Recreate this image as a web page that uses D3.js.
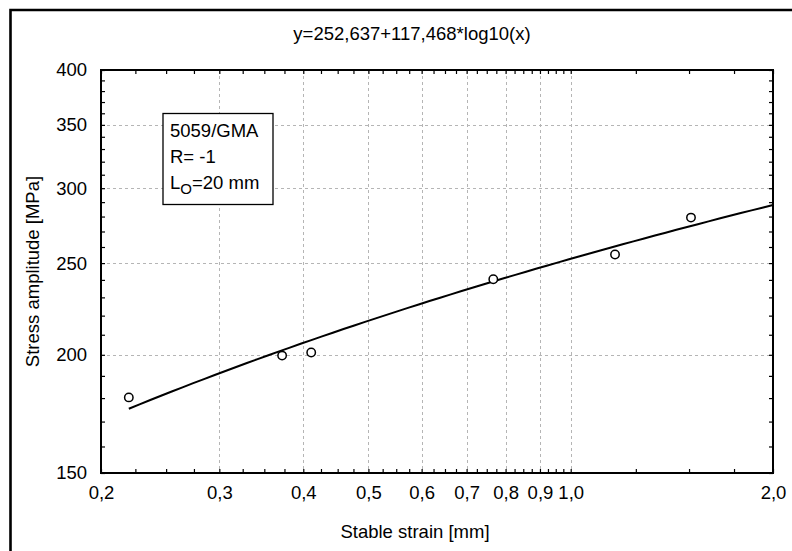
<!DOCTYPE html>
<html>
<head>
<meta charset="utf-8">
<script src="https://cdn.jsdelivr.net/npm/d3@7"></script>
<style>
  body { margin: 0; background: #fff; }
  text { font-family: "Liberation Sans", Arial, sans-serif; fill: #000; }
</style>
</head>
<body>
<div id="chart"></div>
<script>
// measured points (stable strain, stress amplitude)
const strain = [0.22, 0.372, 0.411, 0.767, 1.164, 1.51];
const stress = [180.3, 199.6, 201.1, 240.4, 255.3, 279.3];

// fit from the title: y = A + B*log10(x)
const FIT_A = 252.637;
const FIT_B = 117.468;

const xMajor = [0.2, 0.3, 0.4, 0.5, 0.6, 0.7, 0.8, 0.9, 1.0, 2.0];
const xMajorLabels = ['0,2', '0,3', '0,4', '0,5', '0,6', '0,7', '0,8', '0,9', '1,0', '2,0'];
const xMinor = [0.225, 0.25, 0.275, 0.325, 0.35, 0.375, 0.425, 0.45, 0.475,
  0.525, 0.55, 0.575, 0.625, 0.65, 0.675, 0.725, 0.75, 0.775, 0.825, 0.85, 0.875,
  0.925, 0.95, 0.975, 1.25, 1.5, 1.75];
const yMajor = [150, 200, 250, 300, 350, 400];
const yMinor = [160, 170, 180, 190, 210, 220, 230, 240, 260, 270, 280, 290,
  310, 320, 330, 340, 360, 370, 380, 390];
const xGrid = [0.3, 0.4, 0.5, 0.6, 0.7, 0.8, 0.9, 1.0];
const yGrid = [200, 250, 300, 350];

const legendLines = ['5059/GMA', 'R= -1'];

const W = 792, H = 551;
const PLOT = { LEFT: 101, RIGHT: 773, TOP: 70, BOTTOM: 473 };
const FONT = '18.5px';

const svg = d3.select('#chart').append('svg')
  .attr('width', W)
  .attr('height', H);

svg.append('rect').attr('width', W).attr('height', H).attr('fill', '#fff');

// outer frame (only top and left edges are visible)
svg.append('path')
  .attr('d', `M10.5,${H} L10.5,10 L${W},10`)
  .attr('fill', 'none')
  .attr('stroke', '#000')
  .attr('stroke-width', 2.6);

const x = d3.scaleLog().domain([0.2, 2.0]).range([PLOT.LEFT, PLOT.RIGHT]);
const y = d3.scaleLog().domain([150, 400]).range([PLOT.BOTTOM, PLOT.TOP]);

// grid
const grid = svg.append('g')
  .attr('stroke', '#b5b5b5')
  .attr('stroke-width', 1)
  .attr('stroke-dasharray', '3,3');
grid.selectAll('.gx').data(xGrid).enter().append('line')
  .attr('x1', d => Math.round(x(d)) + 0.5).attr('x2', d => Math.round(x(d)) + 0.5)
  .attr('y1', PLOT.TOP).attr('y2', PLOT.BOTTOM);
grid.selectAll('.gy').data(yGrid).enter().append('line')
  .attr('y1', d => Math.round(y(d)) + 0.5).attr('y2', d => Math.round(y(d)) + 0.5)
  .attr('x1', PLOT.LEFT).attr('x2', PLOT.RIGHT);

// axes (ticks inward on all four sides)
function styleAxis(g) {
  g.select('.domain').remove();
  g.selectAll('.tick line').attr('stroke', '#000').attr('stroke-width', 1.2);
  g.selectAll('.tick text')
    .style('font-family', '"Liberation Sans", Arial, sans-serif')
    .style('font-size', FONT)
    .attr('fill', '#000');
}

svg.append('g')
  .attr('transform', `translate(0,${PLOT.BOTTOM})`)
  .call(d3.axisBottom(x).tickValues(xMajor.concat(xMinor))
    .tickFormat(d => { const i = xMajor.indexOf(d); return i >= 0 ? xMajorLabels[i] : ''; })
    .tickSize(-4).tickSizeOuter(0).tickPadding(13))
  .call(styleAxis);

svg.append('g')
  .attr('transform', `translate(0,${PLOT.TOP})`)
  .call(d3.axisTop(x).tickValues(xMajor.concat(xMinor)).tickFormat('')
    .tickSize(-4).tickSizeOuter(0))
  .call(styleAxis);

svg.append('g')
  .attr('transform', `translate(${PLOT.LEFT},0)`)
  .call(d3.axisLeft(y).tickValues(yMajor.concat(yMinor))
    .tickFormat(d => yMajor.includes(d) ? String(d) : '')
    .tickSize(-4).tickSizeOuter(0).tickPadding(14))
  .call(styleAxis);

svg.append('g')
  .attr('transform', `translate(${PLOT.RIGHT},0)`)
  .call(d3.axisRight(y).tickValues(yMajor.concat(yMinor)).tickFormat('')
    .tickSize(-4).tickSizeOuter(0))
  .call(styleAxis);

// plot frame
svg.append('rect')
  .attr('x', PLOT.LEFT).attr('y', PLOT.TOP)
  .attr('width', PLOT.RIGHT - PLOT.LEFT)
  .attr('height', PLOT.BOTTOM - PLOT.TOP)
  .attr('fill', 'none')
  .attr('stroke', '#000')
  .attr('stroke-width', 2);

// fitted curve
const xFit = d3.range(0, 61).map(i => d3.min(strain) * Math.pow(2.0 / d3.min(strain), i / 60));
const line = d3.line()
  .x(d => x(d))
  .y(d => y(FIT_A + FIT_B * Math.log10(d)));
svg.append('path')
  .datum(xFit)
  .attr('d', line)
  .attr('fill', 'none')
  .attr('stroke', '#000')
  .attr('stroke-width', 2);

// data points
svg.selectAll('circle.pt')
  .data(strain.map((s, i) => ({ s, v: stress[i] })))
  .enter().append('circle')
  .attr('class', 'pt')
  .attr('cx', d => x(d.s))
  .attr('cy', d => y(d.v))
  .attr('r', 4.2)
  .attr('fill', '#fff')
  .attr('stroke', '#000')
  .attr('stroke-width', 1.5);

// legend box
const leg = svg.append('g');
leg.append('rect')
  .attr('x', 163).attr('y', 113.5)
  .attr('width', 110).attr('height', 91)
  .attr('fill', '#fff')
  .attr('stroke', '#000')
  .attr('stroke-width', 1.3);
leg.selectAll('text.l').data(legendLines).enter().append('text')
  .attr('class', 'l')
  .attr('x', 170)
  .attr('y', (d, i) => 137 + i * 26)
  .style('font-size', FONT)
  .text(d => d);
const lo = leg.append('text').attr('x', 170).attr('y', 189).style('font-size', FONT);
lo.append('tspan').text('L');
lo.append('tspan').attr('dy', 5).style('font-size', '15px').text('O');
lo.append('tspan').attr('dy', -5).text('=20 mm');

// title
svg.append('text')
  .attr('x', 412).attr('y', 40)
  .attr('text-anchor', 'middle')
  .style('font-size', FONT)
  .text('y=252,637+117,468*log10(x)');

// axis titles
svg.append('text')
  .attr('x', 415).attr('y', 538)
  .attr('text-anchor', 'middle')
  .style('font-size', FONT)
  .text('Stable strain [mm]');

svg.append('text')
  .attr('transform', `translate(39,${(PLOT.TOP + PLOT.BOTTOM) / 2}) rotate(-90)`)
  .attr('text-anchor', 'middle')
  .style('font-size', FONT)
  .text('Stress amplitude [MPa]');
</script>
</body>
</html>
